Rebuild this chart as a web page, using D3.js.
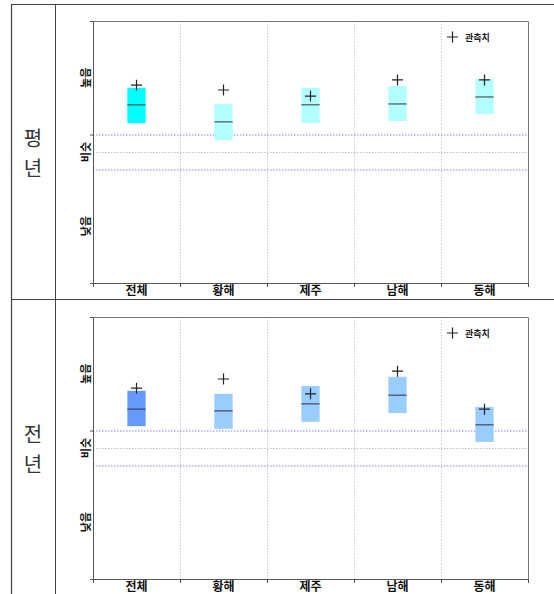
<!DOCTYPE html>
<html>
<head>
<meta charset="utf-8">
<script src="https://cdn.jsdelivr.net/npm/d3@7"></script>
<style>
  body { margin: 0; background: #fff; }
</style>
</head>
<body>
<div id="chart"></div>
<script>
// Data
const categories = ['전체', '황해', '제주', '남해', '동해'];
const rowLabels = ['평년', '전년'];

// top panel (평년)
const normalLow    = [0.66, 0.27, 0.66, 0.71, 0.87];
const normalMid    = [1.08, 0.69, 1.08, 1.10, 1.26];
const normalHigh   = [1.47, 1.10, 1.47, 1.51, 1.67];
const normalObs    = [1.53, 1.42, 1.28, 1.65, 1.65];

// bottom panel (전년)
const lastLow      = [0.50, 0.44, 0.60, 0.80, 0.14];
const lastMid      = [0.89, 0.85, 1.01, 1.21, 0.53];
const lastHigh     = [1.31, 1.24, 1.42, 1.63, 0.94];
const lastObs      = [1.37, 1.58, 1.24, 1.76, 0.89];

const levelLabels = ['높음', '비슷', '낮음'];
const levelValues = [1.7, 0, -1.7];
const bandEdges = [0.4, -0.4];

// Constant
const width = 554;
const height = 594;
const fontFamily = `"Noto Sans CJK KR", "Noto Sans", sans-serif`;
const panelOffset = [0, 296];

const panels = [
    {low: normalLow, mid: normalMid, high: normalHigh, obs: normalObs,
     colors: ['#00FFFF', '#B3FFFF', '#B3FFFF', '#B3FFFF', '#B3FFFF']},
    {low: lastLow, mid: lastMid, high: lastHigh, obs: lastObs,
     colors: ['#6699FF', '#99CCFF', '#99CCFF', '#99CCFF', '#99CCFF']}
];

const xScale = d3.scaleBand()
                .domain(categories)
                .range([93, 528]);
const yScale = d3.scaleLinear()
                .domain([-3, 3])
                .range([283, 21]);

const svg = d3.select('#chart')
            .append('svg')
                .attr('width', width)
                .attr('height', height);

// table frame
svg.append('line').attr('x1', 11).attr('x2', 554).attr('y1', 4.5).attr('y2', 4.5)
    .attr('stroke', '#444').attr('stroke-width', 1.2);
svg.append('line').attr('x1', 11).attr('x2', 554).attr('y1', 299.5).attr('y2', 299.5)
    .attr('stroke', '#444').attr('stroke-width', 1.2);
svg.append('line').attr('x1', 11.5).attr('x2', 11.5).attr('y1', 4).attr('y2', height)
    .attr('stroke', '#444').attr('stroke-width', 1.2);
svg.append('line').attr('x1', 55.5).attr('x2', 55.5).attr('y1', 4).attr('y2', height)
    .attr('stroke', '#444').attr('stroke-width', 1);

panels.forEach((p, i) => {
    const g = svg.append('g')
        .attr('transform', `translate(0,${panelOffset[i]})`);

    // row label
    rowLabels[i].split('').forEach((ch, k) => {
        g.append('text')
            .attr('x', 33)
            .attr('y', 146 + k * 30)
            .attr('text-anchor', 'middle')
            .style('font-family', fontFamily)
            .style('font-size', '20px')
            .style('font-weight', 'normal')
            .attr('fill', '#333')
            .text(ch);
    });

    // vertical grid
    g.append('g').selectAll('line')
        .data(categories.slice(1))
        .join('line')
        .attr('x1', d => xScale(d) + 0.5)
        .attr('x2', d => xScale(d) + 0.5)
        .attr('y1', yScale(3))
        .attr('y2', yScale(-3))
        .attr('stroke', '#cccccc')
        .attr('stroke-dasharray', '1.5,1.5');

    // horizontal reference lines
    g.append('line')
        .attr('x1', xScale.range()[0]).attr('x2', xScale.range()[1])
        .attr('y1', yScale(0) + 0.5).attr('y2', yScale(0) + 0.5)
        .attr('stroke', '#c0c0c0')
        .attr('stroke-dasharray', '1.5,1.5');
    g.append('g').selectAll('line')
        .data(bandEdges)
        .join('line')
        .attr('x1', xScale.range()[0]).attr('x2', xScale.range()[1])
        .attr('y1', d => yScale(d) + 0.5).attr('y2', d => yScale(d) + 0.5)
        .attr('stroke', '#8080ff')
        .attr('stroke-dasharray', '1.5,1.5');

    // frame top/right
    g.append('path')
        .attr('d', `M${xScale.range()[0]},${yScale(3) + 0.5}H${xScale.range()[1] + 0.5}V${yScale(-3)}`)
        .attr('fill', 'none')
        .attr('stroke', '#777');

    // boxes
    const bw = xScale.bandwidth() * 0.21;
    const cx = d => xScale(d) + xScale.bandwidth() / 2;
    g.append('g').selectAll('rect')
        .data(categories)
        .join('rect')
        .attr('x', d => cx(d) - bw / 2)
        .attr('width', bw)
        .attr('y', (d, j) => yScale(p.high[j]))
        .attr('height', (d, j) => yScale(p.low[j]) - yScale(p.high[j]))
        .attr('fill', (d, j) => p.colors[j]);

    g.append('g').selectAll('line')
        .data(categories)
        .join('line')
        .attr('x1', d => cx(d) - bw / 2)
        .attr('x2', d => cx(d) + bw / 2)
        .attr('y1', (d, j) => yScale(p.mid[j]))
        .attr('y2', (d, j) => yScale(p.mid[j]))
        .attr('stroke', '#333')
        .attr('stroke-width', 1);

    // observed values (+)
    const plus = 5.5;
    g.append('g').selectAll('path')
        .data(categories)
        .join('path')
        .attr('d', (d, j) => {
            const px = cx(d), py = yScale(p.obs[j]);
            return `M${px - plus},${py}H${px + plus}M${px},${py - plus}V${py + plus}`;
        })
        .attr('stroke', '#222')
        .attr('stroke-width', 1.2);

    // legend
    g.append('path')
        .attr('d', `M${447},${37}H${458}M${452.5},${31.5}V${42.5}`)
        .attr('stroke', '#222')
        .attr('stroke-width', 1.2);
    g.append('text')
        .attr('x', 465)
        .attr('y', 41)
        .style('font-family', fontFamily)
        .style('font-size', '9px')
        .style('font-weight', 'bold')
        .attr('fill', '#222')
        .text('관측치');

    // x axis
    const xAxis = g.append('g')
        .attr('transform', `translate(0,${yScale(-3)})`)
        .call(d3.axisBottom(xScale).tickSize(0).tickPadding(3));
    xAxis.select('.domain').attr('stroke', '#555');
    xAxis.selectAll('text')
        .style('font-family', fontFamily)
        .style('font-size', '12px')
        .style('font-weight', 'bold')
        .attr('fill', '#111');
    xAxis.append('g').selectAll('line')
        .data(categories.map(d => xScale(d)).concat([xScale.range()[1]]))
        .join('line')
        .attr('x1', d => d + 0.5).attr('x2', d => d + 0.5)
        .attr('y1', 0).attr('y2', 4)
        .attr('stroke', '#555');

    // y axis
    const yAxis = g.append('g')
        .attr('transform', `translate(${xScale.range()[0]},0)`)
        .call(d3.axisLeft(yScale).tickValues([3, 0.4, -3]).tickSize(3).tickSizeOuter(0).tickFormat(''));
    yAxis.selectAll('line, path').attr('stroke', '#555');

    g.append('g').selectAll('text')
        .data(levelLabels)
        .join('text')
        .attr('transform', (d, j) => `translate(86.5,${yScale(levelValues[j])}) rotate(-90)`)
        .attr('text-anchor', 'middle')
        .attr('dy', '0.35em')
        .style('font-family', fontFamily)
        .style('font-size', '11px')
        .style('font-weight', 'bold')
        .attr('fill', '#111')
        .text(d => d);
});
</script>
</body>
</html>
